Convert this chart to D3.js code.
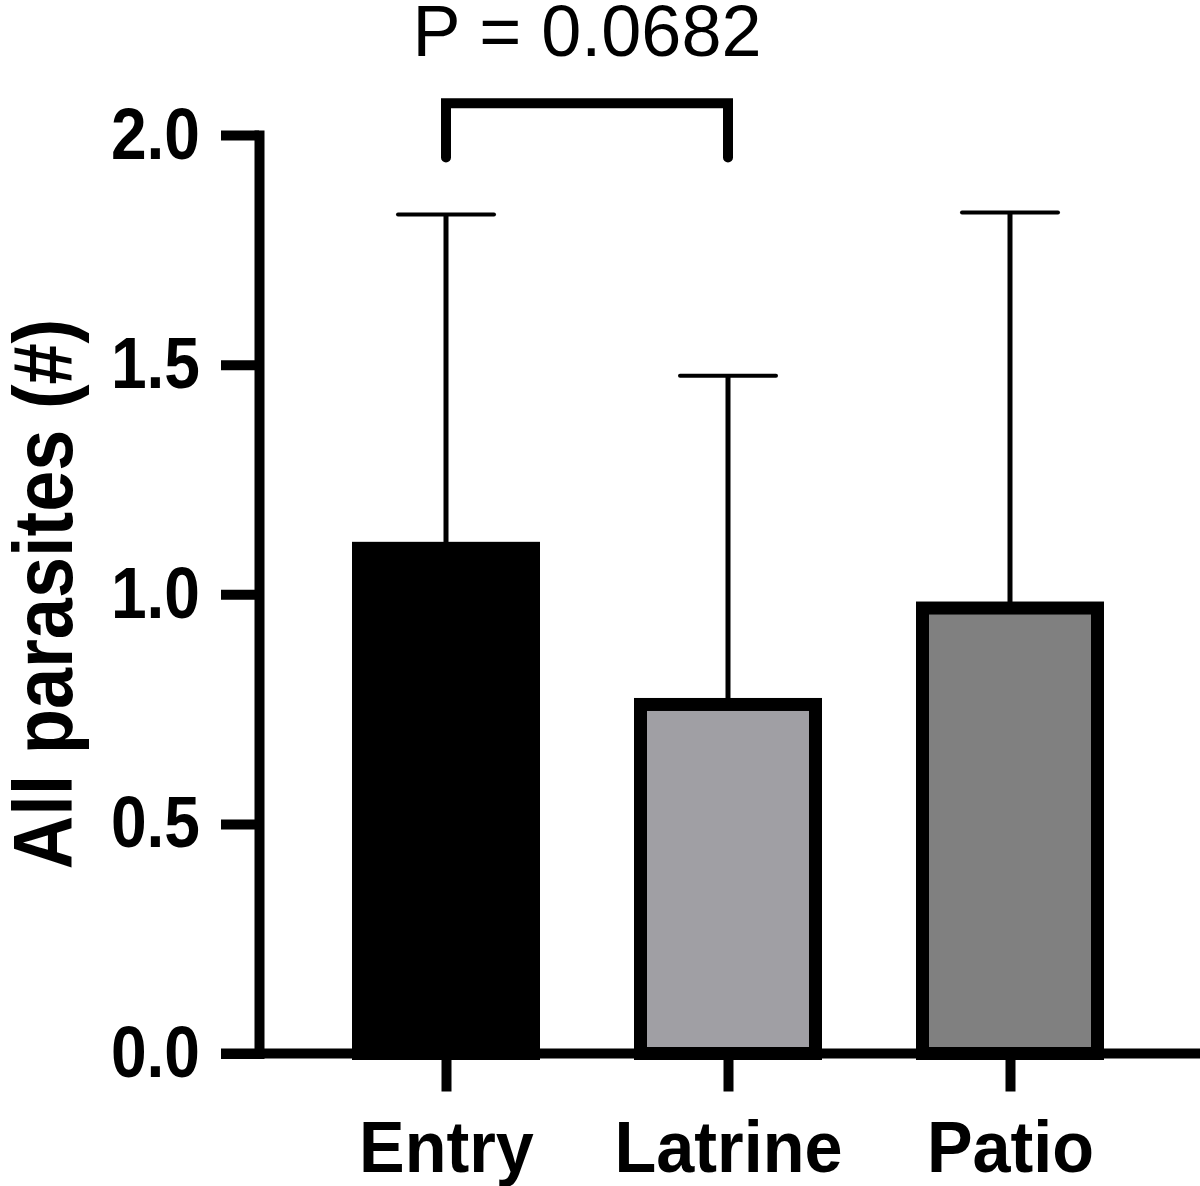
<!DOCTYPE html>
<html>
<head>
<meta charset="utf-8">
<script src="https://cdn.jsdelivr.net/npm/d3@7"></script>
<style>
    body { margin: 0; background: #fff; }
    text { font-family: "Liberation Sans", Arial, sans-serif; }
</style>
</head>
<body>
<svg id="drawing_region"></svg>
<script>
// data
const categories = ["Entry", "Latrine", "Patio"];
const means = [1.10, 0.76, 0.97];
const sdTops = [1.827, 1.476, 1.831];
const fills = ["#000000", "#a09fa4", "#808080"];
const yTicks = [0, 0.5, 1.0, 1.5, 2.0];
const pLabel = "P = 0.0682";
const yTitle = "All parasites (#)";

const width = 1200, height = 1186;

const svg = d3.select("#drawing_region")
    .attr("width", width)
    .attr("height", height);

const axisX = 259;
const yscale = d3.scaleLinear().domain([0, 2]).range([1053.5, 135]);
const xscale = d3.scalePoint().domain(categories).range([446, 1010]);
const barWidth = 175;

const data = categories.map((c, i) => ({ label: c, mean: means[i], top: sdTops[i], fill: fills[i] }));

// bars
svg.append("g").selectAll("rect").data(data)
    .join("rect")
    .attr("x", d => xscale(d.label) - barWidth / 2)
    .attr("y", d => yscale(d.mean))
    .attr("width", barWidth)
    .attr("height", d => yscale(0) - yscale(d.mean))
    .attr("fill", d => d.fill)
    .attr("stroke", "#000")
    .attr("stroke-width", 13);

// error bars (upper only)
const err = svg.append("g").selectAll("g").data(data).join("g");
err.append("line")
    .attr("x1", d => xscale(d.label)).attr("x2", d => xscale(d.label))
    .attr("y1", d => yscale(d.mean) - 6).attr("y2", d => yscale(d.top))
    .attr("stroke", "#000").attr("stroke-width", 5);
err.append("line")
    .attr("x1", d => xscale(d.label) - 48).attr("x2", d => xscale(d.label) + 48)
    .attr("y1", d => yscale(d.top)).attr("y2", d => yscale(d.top))
    .attr("stroke", "#000").attr("stroke-width", 4).attr("stroke-linecap", "round");

// y axis
const yaxis = d3.axisLeft(yscale)
    .tickValues(yTicks)
    .tickFormat(d3.format(".1f"))
    .tickSize(38)
    .tickSizeOuter(0);
const yg = svg.append("g")
    .attr("transform", `translate(${axisX},0)`)
    .call(yaxis);
yg.select(".domain").attr("stroke-width", 10).attr("stroke-linecap", "square");
yg.selectAll(".tick line").attr("stroke-width", 10);
yg.selectAll(".tick text")
    .attr("x", null)
    .attr("transform", "translate(-59,0) scale(0.89,1)")
    .attr("font-size", 72)
    .attr("font-weight", "bold")
    .attr("fill", "#000");

// x axis baseline
svg.append("line")
    .attr("x1", axisX - 38).attr("x2", width)
    .attr("y1", yscale(0)).attr("y2", yscale(0))
    .attr("stroke", "#000").attr("stroke-width", 10);

const xaxis = d3.axisBottom(xscale).tickSize(38).tickSizeOuter(0);
const xg = svg.append("g")
    .attr("transform", `translate(0,${yscale(0)})`)
    .call(xaxis);
xg.select(".domain").remove();
xg.selectAll(".tick line").attr("stroke-width", 10);
xg.selectAll(".tick text")
    .attr("y", 118.5)
    .attr("dy", null)
    .attr("transform", "scale(0.95,1)")
    .attr("font-size", 72)
    .attr("font-weight", "bold")
    .attr("fill", "#000");

// y title
svg.append("text")
    .attr("transform", "translate(72,594) rotate(-90) scale(0.88,1)")
    .attr("text-anchor", "middle")
    .attr("font-size", 84)
    .attr("font-weight", "bold")
    .text(yTitle);

// significance bracket
const bx1 = xscale("Entry"), bx2 = xscale("Latrine");
svg.append("path")
    .attr("d", `M${bx1},${yscale(1.951)}V${yscale(2.069)}H${bx2}V${yscale(1.951)}`)
    .attr("fill", "none")
    .attr("stroke", "#000")
    .attr("stroke-width", 10)
    .attr("stroke-linecap", "round")
    .attr("stroke-linejoin", "miter");

svg.append("text")
    .attr("x", (bx1 + bx2) / 2)
    .attr("y", 56)
    .attr("text-anchor", "middle")
    .attr("font-size", 72)
    .text(pLabel);
</script>
</body>
</html>
